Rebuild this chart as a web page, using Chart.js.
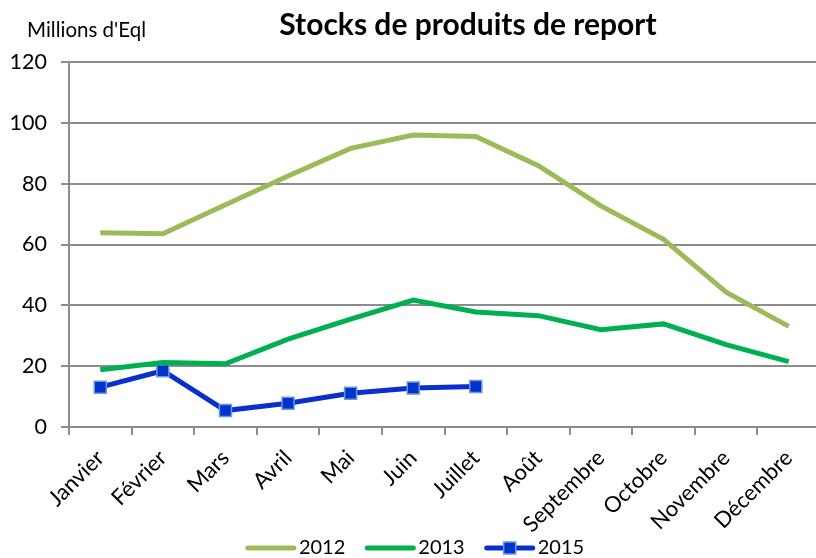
<!DOCTYPE html>
<html><head><meta charset="utf-8">
<script src="https://cdn.jsdelivr.net/npm/chart.js@4.4.0/dist/chart.umd.min.js"></script>
<style>
html,body{margin:0;padding:0;background:#fff;overflow:hidden;width:816px;height:558px}
#wrap{position:relative;width:830px;height:558px}
</style>
</head><body><div id="wrap"><canvas id="c" width="830" height="558"></canvas></div>
<script>
const months = ['Janvier','Février','Mars','Avril','Mai','Juin','Juillet','Août','Septembre','Octobre','Novembre','Décembre'];
const stocks2012 = [63.9,63.5,73.1,82.5,91.6,96.0,95.5,85.9,72.7,61.7,44.3,33.1];
const stocks2013 = [18.8,21.2,20.8,28.9,35.5,41.7,37.8,36.6,32.0,33.9,27.1,21.5];
const stocks2015 = [13.1,18.5,5.4,7.8,11.1,12.8,13.3,null,null,null,null,null];
const yTicks = [0,20,40,60,80,100,120];
const seriesNames = ['2012','2013','2015'];
const chartTitle = 'Stocks de produits de report';
const unitLabel = "Millions d'Eql";

const FONT = 'Lato';
const GRID = '#8c8c8c';

const overlay = {
  id: 'overlay',
  afterDraw(chart) {
    const ctx = chart.ctx;
    ctx.save();
    ctx.fillStyle = '#000';
    ctx.textBaseline = 'middle';
    ctx.font = 'bold 30px ' + FONT;
    ctx.textAlign = 'center';
    ctx.fillText(chartTitle, 468, 25);
    ctx.font = '20.5px ' + FONT;
    ctx.textAlign = 'left';
    ctx.fillText(unitLabel, 27, 30);

    // legend
    ctx.font = '20px ' + FONT;
    const lineLen = 50, gapText = 3, gapItem = 20, yc = 548;
    const widths = seriesNames.map(n => ctx.measureText(n).width);
    const total = widths.reduce((a, w) => a + lineLen + gapText + w, 0) + gapItem * (seriesNames.length - 1);
    let x = 415 - total / 2;
    chart.data.datasets.forEach((ds, i) => {
      ctx.strokeStyle = ds.borderColor;
      ctx.lineWidth = 5;
      ctx.lineCap = 'round';
      ctx.beginPath();
      ctx.moveTo(x + 2, yc);
      ctx.lineTo(x + lineLen - 2, yc);
      ctx.stroke();
      if (ds.pointRadius > 0) {
        const s = 12;
        ctx.fillStyle = ds.pointBackgroundColor;
        ctx.fillRect(x + lineLen / 2 - s / 2, yc - s / 2, s, s);
        ctx.strokeStyle = ds.pointBorderColor;
        ctx.lineWidth = 1.5;
        ctx.strokeRect(x + lineLen / 2 - s / 2, yc - s / 2, s, s);
      }
      ctx.fillStyle = '#000';
      ctx.textAlign = 'left';
      ctx.fillText(ds.label, x + lineLen + gapText, yc);
      x += lineLen + gapText + widths[i] + gapItem;
    });
    ctx.restore();
  }
};

new Chart(document.getElementById('c'), {
  type: 'line',
  data: {
    labels: months,
    datasets: [
      {label: seriesNames[0], data: stocks2012, borderColor: '#9BBB59', borderWidth: 5, pointRadius: 0, tension: 0},
      {label: seriesNames[1], data: stocks2013, borderColor: '#00B050', borderWidth: 5, pointRadius: 0, tension: 0},
      {label: seriesNames[2], data: stocks2015, borderColor: '#0A30CC', borderWidth: 5, pointRadius: 8.5,
       pointStyle: 'rect', pointBackgroundColor: '#0033CC', pointBorderColor: '#6B97DC', pointBorderWidth: 1.5, tension: 0}
    ]
  },
  options: {
    responsive: false,
    animation: false,
    layout: {padding: {top: 62, right: 10, left: 0, bottom: 0}},
    plugins: {legend: {display: false}, title: {display: false}, tooltip: {enabled: false}},
    scales: {
      x: {
        offset: true,
        grid: {display: true, drawOnChartArea: false, drawTicks: true, tickLength: 8, color: GRID, lineWidth: 2, offset: true},
        border: {display: true, color: GRID, width: 2},
        ticks: {minRotation: 45, maxRotation: 45, autoSkip: false, padding: 10, color: '#000', font: {family: FONT, size: 22}},
        afterFit(s) { s.height = 131; }
      },
      y: {
        min: 0, max: 120,
        afterBuildTicks(s) { s.ticks = yTicks.map(v => ({value: v})); },
        grid: {color: GRID, lineWidth: 2, tickLength: 8},
        border: {display: true, color: GRID, width: 2},
        ticks: {padding: 14, color: '#000', font: {family: FONT, size: 21.5}},
        afterFit(s) { s.width = 69; }
      }
    }
  },
  plugins: [overlay]
});
</script>
</body></html>
